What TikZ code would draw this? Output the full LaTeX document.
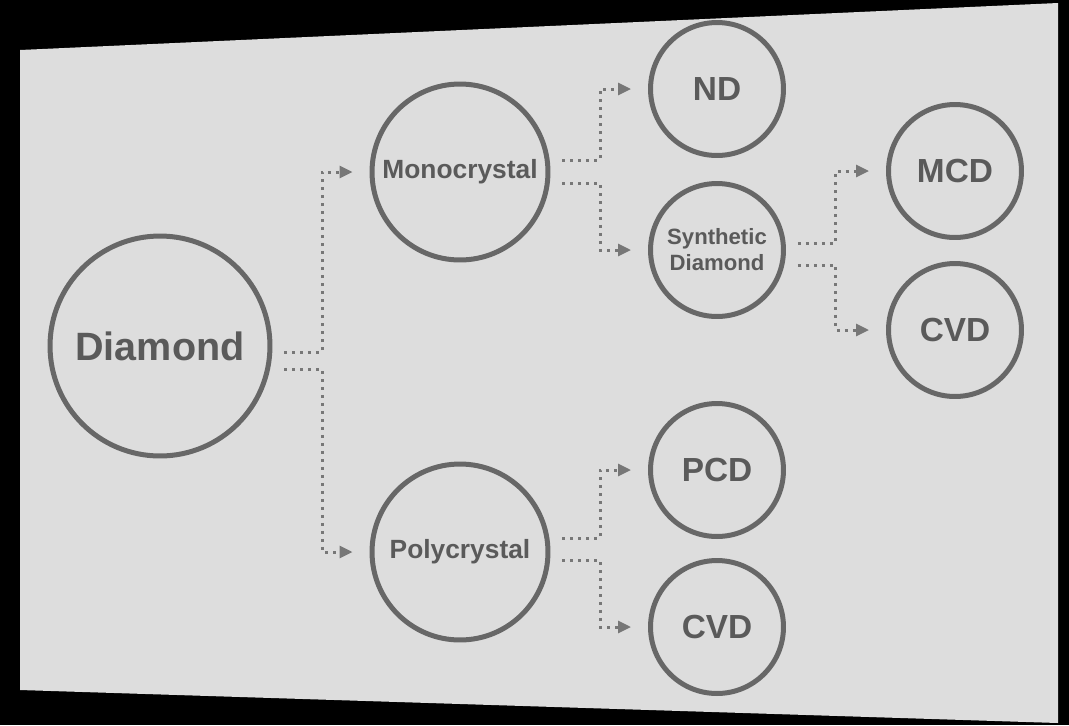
\documentclass[tikz,border=0pt]{standalone}
\usepackage{fontspec}
\setmainfont{Liberation Sans}
\usetikzlibrary{arrows.meta,calc}
\definecolor{panel}{HTML}{DDDDDD}
\definecolor{ring}{HTML}{676767}
\definecolor{ink}{HTML}{5A5A5A}
\definecolor{dotgray}{HTML}{777777}
\begin{document}
\begin{tikzpicture}[x=0.02cm,y=-0.02cm,
    ball/.style={circle,draw=ring,line width=0.1cm,text=ink,inner sep=0pt,minimum size=#1},
    big/.style={ball=4.4cm,font=\bfseries\fontsize{22.5}{26}\selectfont},
    mid/.style={ball=3.52cm,font=\bfseries\fontsize{15}{18}\selectfont},
    small/.style={ball=2.66cm,font=\bfseries\fontsize{19}{22}\selectfont},
    link/.style={dotgray,line width=0.06cm,dash pattern=on 0.06cm off 0.1cm,
      -{Triangle[length=0.26cm,width=0.24cm]},shorten >=0.34cm}]
  \fill[black] (0,0) rectangle (1069,725);
  \fill[panel] (20,50) -- (1058,3) -- (1058,723) -- (20,690) -- cycle;
  % circles
  \node[big] (diamond) at (160,346) {Diamond};
  \node[mid] (mono) at (460,172) {Monocrystal};
  \node[mid] (poly) at (460,552) {Polycrystal};
  \node[small] (nd) at (717,89) {ND};
  \node[small,font=\bfseries\fontsize{12.6}{14.8}\selectfont,align=center] (synth) at (717,250) {Synthetic\\Diamond};
  \node[small] (pcd) at (717,470) {PCD};
  \node[small] (cvdb) at (717,627) {CVD};
  \node[small] (mcd) at (955,171) {MCD};
  \node[small] (cvdr) at (955,330) {CVD};
  % dotted links
  \foreach \a/\b/\dy in {diamond/mono/6, diamond/poly/23, mono/nd/-12, mono/synth/11,
      synth/mcd/-7, synth/cvdr/15, poly/pcd/-14, poly/cvdb/8}
    \draw[link] ($(\a.east)+(12,\dy)$) -- ++(38,0) |- (\b.west);
\end{tikzpicture}
\end{document}
